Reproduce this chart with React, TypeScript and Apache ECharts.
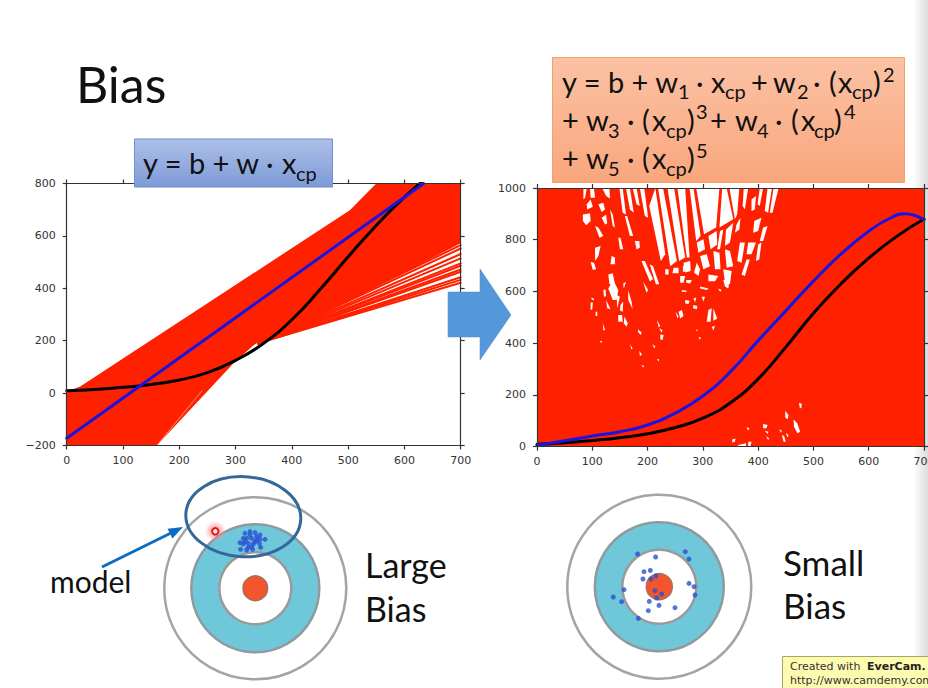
import React, { useEffect, useRef } from "react";
import * as echarts from "echarts";

// ---------- left panel (degree 1), data units ----------
const leftBand = [[0, -200], [0, 5], [24, 25], [503, 698], [550, 800], [700, 800], [700, 572], [373, 209], [337, 190], [329, 177], [296, 113], [160, -200]];
const leftFanStart = [340, 190];
const leftFanEnds = [421, 432, 442, 463, 472, 486, 495, 514, 531, 552, 565];
const leftPaleLine = [[160, -200], [240, 8]];
const leftTrue = [[0, 9], [50, 14], [100, 22], [150, 33], [200, 50], [250, 78], [300, 125], [350, 190], [400, 280], [450, 395], [500, 520], [550, 640], [600, 748], [650, 840]];
const leftFit = [[0, -172], [634, 800]];

// ---------- right panel (degree 5), data units ----------
const rightBand = [[0, 0], [700, 0], [700, 1000], [0, 1000]];
const rightGaps = [
  [83,898,96,902,97,872,89,856,83,872],[90,937,97,956,101,928,91,917],[111,937,120,943,123,917,117,907],[105,853,111,847,120,814,113,808],
  [117,885,125,898,127,863,123,859],[105,769,115,776,111,737,105,718],[147,808,151,808,156,763,150,763],[135,737,141,731,141,705,133,705],
  [97,714,103,711,107,686,101,683],[129,666,137,670,141,628,131,628],[118,1000,131,1000,132,959,125,969],[84,1000,90,1000,87,962,84,956],
  [96,1000,103,1000,105,962,97,962],[132,917,137,898,141,847,137,853],[149,1000,155,1000,161,898,155,904],[161,1000,168,1000,175,904,168,917],
  [173,1000,180,1000,186,930,180,937],[186,1000,194,1000,201,885,195,892],[159,892,163,892,174,814,168,814],[177,795,185,795,186,769,180,763],
  [189,718,195,718,210,647,204,640],[204,705,210,698,221,628,215,628],[203,930,214,1000,232,744,224,718],[219,1000,228,1000,253,718,241,698],
  [236,1000,248,1000,268,731,257,718],[254,1000,268,1000,276,731,271,731],[232,686,238,686,238,666,232,666],[247,692,256,692,256,670,245,670],
  [264,698,272,709,271,679,264,675],[259,660,268,660,265,634,259,634],
  [288,1000,330,1000,324,847,302,821],[276,1000,283,1000,296,814,288,795],[335,1000,343,1000,355,879,330,847],[348,1000,366,1000,362,898,358,879],
  [374,1000,382,1000,376,917,372,930],[388,956,396,969,394,917,388,911],[417,1000,425,1000,418,904,412,911],[428,1000,437,1000,426,904,421,904],
  [403,1000,409,1000,403,930,399,937],[289,789,301,802,304,763,292,750],[310,814,325,834,326,782,314,763],[331,834,337,840,331,763,326,763],
  [342,840,355,866,349,789,340,776],[361,859,368,885,366,840,358,827],[393,872,406,885,400,834,391,827],[409,847,417,853,409,795,403,795],
  [382,789,396,789,388,744,379,744],[367,789,376,789,370,711,362,718],[400,782,406,789,402,724,396,718],[295,737,307,744,313,698,301,686],
  [319,756,330,750,332,686,322,686],[340,763,349,756,355,698,343,692],[265,711,277,718,278,679,268,673],[289,711,295,686,292,660,284,673],
  [310,666,328,660,322,640,310,640],[337,686,352,679,349,628,340,634],[379,724,385,724,376,660,370,666],
  [138,644,147,606,144,567,137,567,129,612],[165,606,171,561,173,531,165,567],[156,631,161,638,157,612],[144,586,150,580,145,535],
  [151,548,156,561,155,522,150,526],[125,567,131,541,133,531,127,535],[120,606,124,608,125,582,121,580],[147,509,154,509,155,483,147,483],
  [158,503,164,477,162,464,157,477],[97,557,101,557,100,531,97,528],[97,577,103,573,102,564],[106,522,109,522,109,505,106,505],
  [119,477,123,451,120,449],[183,454,189,441,188,432,183,441],[168,397,173,380,171,376],[185,371,190,355,186,351],[209,397,214,387,212,380],
  [223,434,229,432,227,412,223,415],[221,460,227,449,225,441],[217,490,223,467,220,461],[192,638,201,606,198,595],[256,522,262,528,265,505,259,496],
  [251,522,256,503,254,496],[310,528,316,535,314,483,307,483],[319,535,326,496,319,487],[268,567,276,564,274,552,268,554],[283,548,290,544,289,531,282,535],
  [298,580,304,580,301,561],[283,573,288,577,286,557],[328,612,334,606,331,599],[337,644,348,644,346,612,340,619],[292,423,296,423,295,412],
  [316,464,322,467,319,449],[288,454,291,451,289,445],[217,338,221,338,220,329],[114,409,118,409,116,400],[189,316,194,312,192,306],
  [270,644,280,644,277,631,270,634],[295,619,310,612,308,606,295,612],[262,606,271,603,270,598,262,599],
  [464,106,471,90,476,58,471,52,465,77],[449,139,455,122,453,106,449,113],[474,170,479,165,478,148,475,152],[409,88,417,84,415,71,409,71],
  [412,62,419,58,417,49],[443,45,447,41,450,19,446,19],[450,54,455,45,453,36],[353,28,359,32,358,19,353,16],[364,7,378,13,378,3,364,3],
  [382,19,388,19,386,3,382,3],[379,75,384,71,382,62],[414,41,420,32,418,26],[438,67,443,62,441,54],
];
const rightTrue = [[0, 9], [50, 15], [100, 24], [150, 35], [200, 50], [250, 74], [300, 110], [350, 170], [400, 262], [450, 385], [500, 516], [550, 630], [600, 729], [650, 812], [700, 880]];
const rightFit = [[0, 5], [50, 23], [100, 41], [150, 58], [200, 84], [250, 130], [300, 196], [350, 290], [400, 410], [450, 525], [500, 640], [550, 745], [600, 833], [640, 885], [665, 900], [700, 877]];

// ---------- dart-board shots, offsets from each board's centre ----------
const largeBiasShots = [[9.7,49],[5.3,41],[-15.3,45.7],[-14.7,39],[-8.7,38.3],[-2.7,39],[4,45],[-12,50],[-10.3,55],[-5.3,56.7],[-0.3,55.7],[4.7,53.3],[-8.7,50],[-3.7,50],[1.3,48.3],[-7,45],[-2,44.3],[-12,44.3],[1.3,51.7],[-5.3,53.3],[-7,41],[-10.3,46.7],[-0.3,46.7],[4.7,49],[-3.7,41.7]];
const smallBiasShots = [[-21.7,32.7],[-3.7,29.7],[26,35],[29.7,27.7],[-15.3,15],[-9,16.3],[-16.3,7.7],[-8.3,7.7],[-3.3,10.7],[-35.3,-3],[-46,-10.3],[-37.7,-15],[29.7,3.3],[34.7,0],[35.7,-8.3],[-4.3,-4],[2.3,-7.3],[-2.7,-11.3],[-10,-14.7],[-0.3,-18.7],[15.7,-21],[-11,-24],[-21,-31.7]];

// ---------- slide text ----------
const FONT = "Lato";
const T = (text: string, x: number, base: number, size: number, extra: any = {}) => ({
  type: "text", x, y: base - 0.36 * size, z: 20,
  style: { text, fontFamily: FONT, fontSize: size, fill: "#111", verticalAlign: "middle", align: "left", ...extra },
});
const M = 29, S = 20;
const formulaTokens: [string, number, number, number][] = [
  ["y = b + w", 562, 92, M], ["1", 678, 98, S], ["·", 696, 92, M], ["x", 711, 92, M], ["cp", 725, 98, S], ["+", 751, 92, M], ["w", 773, 92, M], ["2", 797, 98, S],
  ["·", 813, 92, M], ["(", 829, 92, M], ["x", 838, 92, M], ["cp", 852, 98, S], [")", 873, 92, M], ["2", 883, 81, S],
  ["+", 562, 130, M], ["w", 586, 130, M], ["3", 608, 137, S], ["·", 627, 130, M], ["(", 642, 130, M], ["x", 652, 130, M], ["cp", 666, 137, S], [")", 687, 130, M], ["3", 696, 118, S],
  ["+", 710, 130, M], ["w", 735, 130, M], ["4", 757, 137, S], ["·", 775, 130, M], ["(", 791, 130, M], ["x", 801, 130, M], ["cp", 814, 137, S], [")", 834, 130, M], ["4", 844, 118, S],
  ["+", 562, 168, M], ["w", 586, 168, M], ["5", 608, 175, S], ["·", 627, 168, M], ["(", 642, 168, M], ["x", 652, 168, M], ["cp", 666, 175, S], [")", 687, 168, M], ["5", 696, 157, S],
];

const RED = "#ff2000";
const AXIS = "#333";

const polygonSeries = (polys: number[][][], fill: string, idx: number, z: number) => ({
  type: "custom", xAxisIndex: idx, yAxisIndex: idx, silent: true, z, clip: true,
  data: polys.map((_, i) => [i]),
  renderItem: (p: any, api: any) => ({
    type: "polygon",
    shape: { points: polys[p.dataIndex].map((q) => api.coord(q)) },
    style: { fill },
  }),
});
const lineSeries = (data: number[][], color: string, width: number, idx: number, z: number, smooth: any = false) => ({
  type: "line", xAxisIndex: idx, yAxisIndex: idx, data, symbol: "none", smooth, z, silent: true,
  lineStyle: { color, width, cap: "round" },
});
const axisStyle = { lineStyle: { color: AXIS, width: 1.2 } };
const xAxes = (grid: number) => [
  { type: "value", gridIndex: grid, position: "bottom", min: 0, max: 700, interval: 100, z: 5, axisLine: { onZero: false, ...axisStyle }, axisTick: { length: 4, ...axisStyle }, splitLine: { show: false },
    axisLabel: { margin: 9, color: "#333", fontSize: 11, fontFamily: "DejaVu Sans", showMinLabel: true, showMaxLabel: true } },
  { type: "value", gridIndex: grid, position: "top", min: 0, max: 700, interval: 100, z: 5, axisLine: { onZero: false, ...axisStyle }, axisTick: { length: 4, ...axisStyle }, splitLine: { show: false }, axisLabel: { show: false } },
];
const yAxes = (grid: number, min: number, max: number) => [
  { type: "value", gridIndex: grid, position: "left", min, max, interval: 200, z: 5, axisLine: { onZero: false, ...axisStyle }, axisTick: { length: 4, ...axisStyle }, splitLine: { show: false },
    axisLabel: { margin: 11, color: "#333", fontSize: 11, fontFamily: "DejaVu Sans", formatter: (v: number) => String(v).replace("-", "\u2212") } },
  { type: "value", gridIndex: grid, position: "right", min, max, interval: 200, z: 5, axisLine: { onZero: false, ...axisStyle }, axisTick: { length: 4, ...axisStyle }, splitLine: { show: false }, axisLabel: { show: false } },
];
const boardAxis = (grid: number) => ({ type: "value", gridIndex: grid, min: -95, max: 95, show: false });
const rings = (cx: number, cy: number, rs: number[]) => [
  { type: "circle", z: 0, shape: { cx, cy, r: rs[0] }, style: { fill: "#fff", stroke: "#a4a4a4", lineWidth: 2.5 } },
  { type: "circle", z: 0, shape: { cx, cy, r: rs[1] }, style: { fill: "#6fc8da", stroke: "#8f9a9f", lineWidth: 2.5 } },
  { type: "circle", z: 0, shape: { cx, cy, r: rs[2] }, style: { fill: "#fff", stroke: "#9a9a9a", lineWidth: 2.5 } },
  { type: "circle", z: 0, shape: { cx, cy, r: rs[3] }, style: { fill: "#f4552c", stroke: "#a5705f", lineWidth: 1.5 } },
];

export default function App() {
  const ref = useRef<HTMLDivElement>(null);
  useEffect(() => {
    const chart = echarts.init(ref.current!, undefined, { renderer: "svg" });
    const fan = leftFanEnds.map((y) => [leftFanStart, [700, y]]);
    const shot = (data: number[][], idx: number) => ({
      type: "scatter", xAxisIndex: idx, yAxisIndex: idx, data, symbolSize: 5, z: 3, silent: true,
      itemStyle: { color: "#2b50d2" },
    });
    chart.setOption({
      animation: false,
      backgroundColor: "#fff",
      grid: [
        { left: 66.7, top: 183.5, width: 394, height: 262, outerBoundsMode: "none" },
        { left: 537, top: 188, width: 387, height: 258.7, outerBoundsMode: "none" },
        { left: 160.3, top: 493.3, width: 190, height: 190, outerBoundsMode: "none" },
        { left: 564.3, top: 491.7, width: 190, height: 190, outerBoundsMode: "none" },
      ],
      xAxis: [...xAxes(0), ...xAxes(1), boardAxis(2), boardAxis(3)],
      yAxis: [...yAxes(0, -200, 800), ...yAxes(1, 0, 1000), boardAxis(2), boardAxis(3)],
      series: [
        polygonSeries([leftBand], RED, 0, 2),
        ...fan.map((d) => lineSeries(d, RED, 2, 0, 2)),
        lineSeries(leftPaleLine, "#ff8f70", 1, 0, 2),
        lineSeries(leftTrue, "#000", 3, 0, 3, 0.5),
        lineSeries(leftFit, "#1a14e0", 3, 0, 4),
        polygonSeries([rightBand], RED, 2, 2),
        polygonSeries(rightGaps.map((f) => { const o: number[][] = []; for (let i = 0; i < f.length; i += 2) o.push([f[i], f[i + 1]]); return o; }), "#fff", 2, 2),
        lineSeries(rightTrue, "#000", 3, 2, 3, 0.5),
        lineSeries(rightFit, "#1a14e0", 3, 2, 4, 0.5),
        shot(largeBiasShots, 4),
        shot(smallBiasShots, 5),
      ],
      graphic: { elements: [
        { type: "rect", z: -1, shape: { x: 913, y: 0, width: 15, height: 688 }, style: { fill: { type: "linear", x: 0, y: 0, x2: 1, y2: 0, colorStops: [{ offset: 0, color: "#ffffff" }, { offset: 1, color: "#dcdcdc" }] } } },
        T("Bias", 76, 102, 50),
        { type: "rect", z: 10, shape: { x: 134.5, y: 139, width: 198, height: 48 }, style: { fill: { type: "linear", x: 0, y: 0, x2: 0, y2: 1, colorStops: [{ offset: 0, color: "#adbfe8" }, { offset: 1, color: "#7e9bd8" }] }, stroke: "#6f90cc", lineWidth: 1 } },
        T("y = b + w", 143, 173, M),
        T("·", 266, 173, M),
        T("x", 282, 173, M),
        T("cp", 296, 180, S),
        { type: "rect", z: 10, shape: { x: 552.5, y: 57.5, width: 352, height: 125 }, style: { fill: { type: "linear", x: 0, y: 0, x2: 0, y2: 1, colorStops: [{ offset: 0, color: "#fbc2a4" }, { offset: 1, color: "#f9a67d" }] }, stroke: "#f0a268", lineWidth: 1 } },
        ...formulaTokens.map(([t, x, b, s]) => T(t, x, b, s)),
        { type: "polygon", z: 10, shape: { points: [[448, 292], [480, 292], [480, 269], [511, 315], [480, 360], [480, 337], [448, 337]] }, style: { fill: "#5597db", stroke: "#4f88c4", lineWidth: 0.5 } },
        ...rings(255.3, 588.3, [91, 64, 36, 12.3]),
        ...rings(659.3, 586.7, [92, 64.5, 37, 13]),
        { type: "circle", z: 6, shape: { cx: 215.3, cy: 531.3, r: 11 }, style: { fill: { type: "radial", x: 0.5, y: 0.5, r: 0.5, colorStops: [{ offset: 0, color: "rgba(255,90,90,0.75)" }, { offset: 0.5, color: "rgba(255,130,130,0.5)" }, { offset: 1, color: "rgba(255,170,170,0)" }] } } },
        { type: "circle", z: 7, shape: { cx: 215.3, cy: 531.3, r: 3.2 }, style: { fill: "#fff", stroke: "#ee1010", lineWidth: 2 } },
        { type: "ellipse", z: 8, x: 243.3, y: 516.7, rotation: -0.05, shape: { cx: 0, cy: 0, rx: 57.5, ry: 40 }, style: { fill: "none", stroke: "#34689a", lineWidth: 3 } },
        { type: "line", z: 8, shape: { x1: 102, y1: 567, x2: 172, y2: 532.5 }, style: { stroke: "#0b6cc4", lineWidth: 3 } },
        { type: "polygon", z: 8, shape: { points: [[183, 527], [172.4, 538.5], [167.6, 528.7]] }, style: { fill: "#0b6cc4" } },
        T("model", 50, 592, 30),
        T("Large", 365, 577, 34),
        T("Bias", 365, 621, 34),
        T("Small", 783, 575, 35),
        T("Bias", 783, 618, 35),
        { type: "rect", z: 10, shape: { x: 782.5, y: 656.5, width: 146, height: 32 }, style: { fill: "#fdfbb0", stroke: "#a8a660", lineWidth: 1 } },
        T("Created with", 790, 670, 11, { fontFamily: "DejaVu Sans", fill: "#333" }),
        T("EverCam.", 867, 670, 11, { fontFamily: "DejaVu Sans", fontWeight: "bold", fill: "#222" }),
        T("http://www.camdemy.com", 790, 684, 11, { fontFamily: "DejaVu Sans", fill: "#333" }),
      ] },
    });
    return () => chart.dispose();
  }, []);
  return <div ref={ref} style={{ position: "absolute", left: 0, top: 0, width: 928, height: 688, overflow: "hidden" }} />;
}
